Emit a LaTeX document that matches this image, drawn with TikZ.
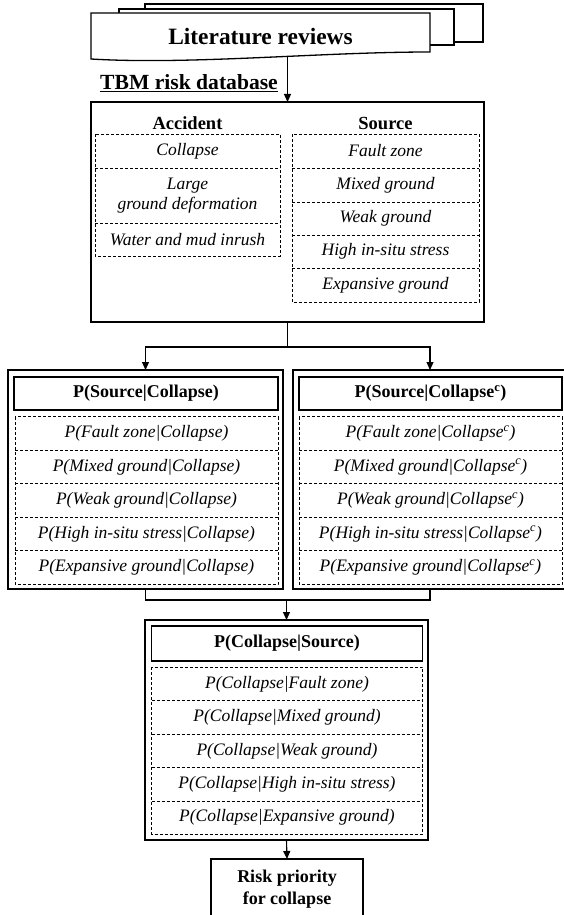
\documentclass[tikz,border=0pt]{standalone}
\usepackage{fontspec}
\setmainfont{Liberation Serif}
\usetikzlibrary{arrows.meta}
\begin{document}
\begin{tikzpicture}[x=1pt,y=-1pt,
 outerbox/.style={draw, line width=1.6pt, inner sep=0pt, outer sep=0pt},
 hdrbox/.style={draw, line width=1.1pt, inner sep=0pt, outer sep=0pt, font=\fontsize{18}{21}\selectfont\bfseries},
 rowbox/.style={inner sep=0pt, outer sep=0pt, font=\fontsize{17.5}{20.7}\selectfont\itshape, align=center},
 grid/.style={line width=0.75pt, dash pattern=on 3pt off 2pt},
 headtxt/.style={font=\fontsize{18.5}{22}\selectfont\bfseries, inner sep=0pt},
 arr/.style={line width=1.1pt, -{Triangle[length=8pt,width=7pt]}},
 conn/.style={line width=1.1pt},
 doc/.style={draw, line width=1.3pt, fill=white}]

\useasboundingbox (0,0) rectangle (564,915);
\clip (0,0) rectangle (564,915);

% stacked documents
\draw[doc] (145,4) rectangle (483,42);
\draw[doc] (119,9) rectangle (454,45);
\draw[doc] (91,13) -- (430,13) -- (430,52) .. controls (320,52) and (190,65) .. (91,59) -- cycle;
\node[font=\fontsize{23.4}{26}\selectfont\bfseries, inner sep=0pt] (lit) at (260.5,37) {Literature reviews};
\coordinate (litbot) at (287.5,56.5);

\node[font=\fontsize{21.6}{24}\selectfont\bfseries, anchor=base, inner sep=0pt] (tbm) at (189,90) {\underline{TBM risk database}};

% database box
\node[outerbox, minimum width=393pt, minimum height=220pt] (db) at (287.5,212) {};
\node[headtxt] (acch) at (187.5,123) {Accident};
\node[headtxt] (srch) at (385.5,123) {Source};

\node[rowbox, minimum width=185pt, minimum height=34pt] (a1) at (187.5,151) {Collapse};
\node[rowbox, minimum width=185pt, minimum height=55pt] (a2) at (187.5,195.5) {Large\\ground deformation};
\node[rowbox, minimum width=185pt, minimum height=33pt] (a3) at (187.5,239.5) {Water and mud inrush};
\draw[grid] (a1.north west) rectangle (a3.south east);
\foreach \r in {a1,a2} \draw[grid] (\r.south west) -- (\r.south east);

\node[rowbox, minimum width=187pt, minimum height=34pt] (s1) at (385.5,151) {Fault zone};
\node[rowbox, minimum width=187pt, minimum height=34pt] (s2) at (385.5,185) {Mixed ground};
\node[rowbox, minimum width=187pt, minimum height=33pt] (s3) at (385.5,218.5) {Weak ground};
\node[rowbox, minimum width=187pt, minimum height=33pt] (s4) at (385.5,251.5) {High in-situ stress};
\node[rowbox, minimum width=187pt, minimum height=34pt] (s5) at (385.5,285) {Expansive ground};
\draw[grid] (s1.north west) rectangle (s5.south east);
\foreach \r in {s1,s2,s3,s4} \draw[grid] (\r.south west) -- (\r.south east);

% left box P(Source|Collapse)
\node[outerbox, minimum width=275pt, minimum height=219pt] (pl) at (145.5,479.5) {};
\node[hdrbox, minimum width=264pt, minimum height=33pt] (plh) at (146,393.5) {P(Source|Collapse)};
\node[rowbox, minimum width=263pt, minimum height=33.4pt] (l1) at (146.5,433.5) {P(Fault zone|Collapse)};
\node[rowbox, minimum width=263pt, minimum height=33.4pt] (l2) at (146.5,467) {P(Mixed ground|Collapse)};
\node[rowbox, minimum width=263pt, minimum height=33.4pt] (l3) at (146.5,500.5) {P(Weak ground|Collapse)};
\node[rowbox, minimum width=263pt, minimum height=33.4pt] (l4) at (146.5,534) {P(High in-situ stress|Collapse)};
\node[rowbox, minimum width=263pt, minimum height=33.4pt] (l5) at (146.5,567.5) {P(Expansive ground|Collapse)};
\draw[grid] (l1.north west) rectangle (l5.south east);
\foreach \r in {l1,l2,l3,l4} \draw[grid] (\r.south west) -- (\r.south east);

% right box P(Source|Collapse^c)
\node[outerbox, minimum width=274pt, minimum height=219pt] (pr) at (430,479.5) {};
\node[hdrbox, minimum width=263pt, minimum height=33pt] (prh) at (430.5,393.5) {P(Source|Collapse\textsuperscript{c})};
\node[rowbox, minimum width=263pt, minimum height=33.4pt] (r1) at (430.5,433.5) {P(Fault zone|Collapse\textsuperscript{c})};
\node[rowbox, minimum width=263pt, minimum height=33.4pt] (r2) at (430.5,467) {P(Mixed ground|Collapse\textsuperscript{c})};
\node[rowbox, minimum width=263pt, minimum height=33.4pt] (r3) at (430.5,500.5) {P(Weak ground|Collapse\textsuperscript{c})};
\node[rowbox, minimum width=263pt, minimum height=33.4pt] (r4) at (430.5,534) {P(High in-situ stress|Collapse\textsuperscript{c})};
\node[rowbox, minimum width=263pt, minimum height=33.4pt] (r5) at (430.5,567.5) {P(Expansive ground|Collapse\textsuperscript{c})};
\draw[grid] (r1.north west) rectangle (r5.south east);
\foreach \r in {r1,r2,r3,r4} \draw[grid] (\r.south west) -- (\r.south east);

% bottom box P(Collapse|Source)
\node[outerbox, minimum width=283pt, minimum height=220pt] (pc) at (286.5,730) {};
\node[hdrbox, minimum width=271pt, minimum height=35pt] (pch) at (287,643.5) {P(Collapse|Source)};
\node[rowbox, minimum width=271pt, minimum height=33.5pt] (c1) at (287,684) {P(Collapse|Fault zone)};
\node[rowbox, minimum width=271pt, minimum height=33.5pt] (c2) at (287,717.5) {P(Collapse|Mixed ground)};
\node[rowbox, minimum width=271pt, minimum height=33.5pt] (c3) at (287,751) {P(Collapse|Weak ground)};
\node[rowbox, minimum width=271pt, minimum height=33.5pt] (c4) at (287,784.5) {P(Collapse|High in-situ stress)};
\node[rowbox, minimum width=271pt, minimum height=33.5pt] (c5) at (287,817.5) {P(Collapse|Expansive ground)};
\draw[grid] (c1.north west) rectangle (c5.south east);
\foreach \r in {c1,c2,c3,c4} \draw[grid] (\r.south west) -- (\r.south east);

% risk priority box
\node[draw, line width=1.3pt, inner sep=0pt, outer sep=0pt, minimum width=152pt, minimum height=60pt, align=center, font=\fontsize{18}{22}\selectfont\bfseries] (risk) at (287,889) {Risk priority\\for collapse};

% connectors
\draw[arr] (litbot) -- (db.north);
\coordinate (br) at (287.5,347);
\draw[arr] (db.south) -- (br) -| (pl.north);
\draw[arr] (br) -| (pr.north);
\coordinate (jn) at (286.5,600);
\draw[conn] (pl.south) -- (pl.south |- jn) -- (pr.south |- jn) -- (pr.south);
\draw[arr] (jn) -- (pc.north);
\draw[arr] (pc.south) -- (risk.north);
\end{tikzpicture}
\end{document}
